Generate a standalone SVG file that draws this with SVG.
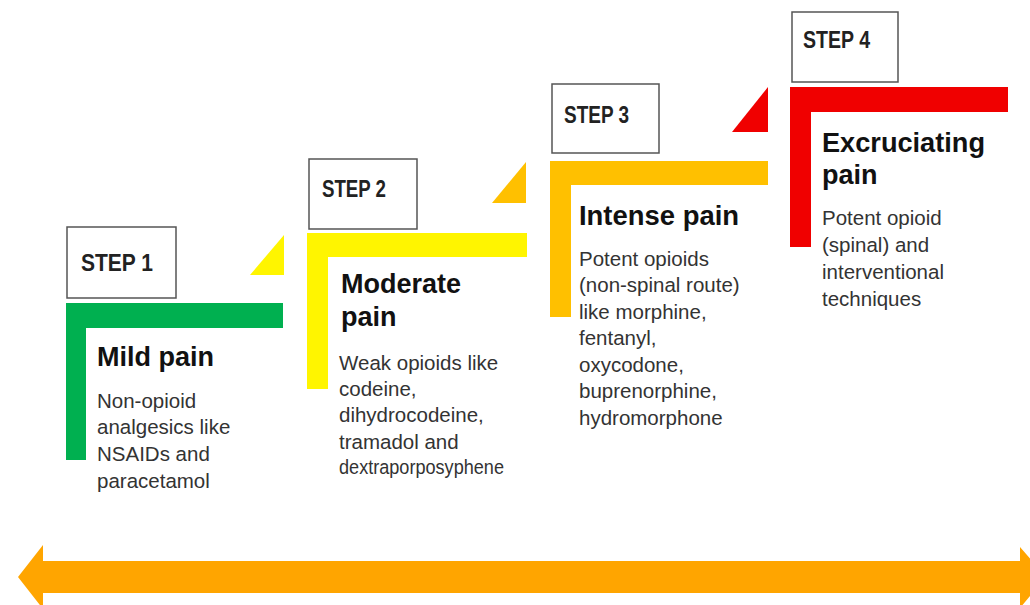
<svg xmlns="http://www.w3.org/2000/svg" width="1030" height="605" viewBox="0 0 1030 605">
  <style>
    .box { fill: #ffffff; stroke: #555555; stroke-width: 1.5; }
    .step { font-family: "Liberation Sans", Arial, sans-serif; font-weight: bold; font-size: 24px; fill: #222222; }
    .title { font-family: "Liberation Sans", Arial, sans-serif; font-weight: bold; font-size: 27px; fill: #111111; }
    .body { font-family: "Liberation Sans", Arial, sans-serif; font-size: 20.5px; fill: #333333; }
    .green { fill: #00B050; }
    .yellow { fill: #FFF500; }
    .amber { fill: #FFC000; }
    .red { fill: #F00000; }
  </style>
  <rect width="1030" height="605" fill="#ffffff"/>

  <!-- Step 1: mild pain -->
  <g id="step1">
    <rect class="box" x="67" y="227" width="109" height="71"/>
    <text class="step" x="81" y="271" textLength="72" lengthAdjust="spacingAndGlyphs">STEP 1</text>
    <path class="green" d="M66,303 H283 V328 H86 V460 H66 Z"/>
    <text class="title" x="97" y="366" font-size="28">Mild pain</text>
    <text class="body" x="97" y="408">Non-opioid</text>
    <text class="body" x="97" y="434">analgesics like</text>
    <text class="body" x="97" y="461">NSAIDs and</text>
    <text class="body" x="97" y="488">paracetamol</text>
  </g>
  <polygon id="tri1" class="yellow" points="250,275 284,235 284,275"/>

  <!-- Step 2: moderate pain -->
  <g id="step2">
    <rect class="box" x="309" y="159" width="108" height="70"/>
    <text class="step" x="322" y="197" textLength="64" lengthAdjust="spacingAndGlyphs">STEP 2</text>
    <path class="yellow" d="M307,233 H527 V257 H328 V389 H307 Z"/>
    <text class="title" x="341" y="293">Moderate</text>
    <text class="title" x="341" y="326">pain</text>
    <text class="body" x="339" y="370">Weak opioids like</text>
    <text class="body" x="339" y="396">codeine,</text>
    <text class="body" x="339" y="422">dihydrocodeine,</text>
    <text class="body" x="339" y="449">tramadol and</text>
    <text class="body" x="339" y="474" textLength="165" lengthAdjust="spacingAndGlyphs">dextraporposyphene</text>
  </g>
  <polygon id="tri2" class="amber" points="492,203 526,162 526,203"/>

  <!-- Step 3: intense pain -->
  <g id="step3">
    <rect class="box" x="552" y="84" width="107" height="69"/>
    <text class="step" x="564" y="123" textLength="65" lengthAdjust="spacingAndGlyphs">STEP 3</text>
    <path class="amber" d="M550,161 H768 V185 H571 V317 H550 Z"/>
    <text class="title" x="579" y="225" font-size="30" textLength="160" lengthAdjust="spacingAndGlyphs">Intense pain</text>
    <text class="body" x="579" y="266">Potent opioids</text>
    <text class="body" x="579" y="292">(non-spinal route)</text>
    <text class="body" x="579" y="319">like morphine,</text>
    <text class="body" x="579" y="345">fentanyl,</text>
    <text class="body" x="579" y="372">oxycodone,</text>
    <text class="body" x="579" y="398">buprenorphine,</text>
    <text class="body" x="579" y="425">hydromorphone</text>
  </g>
  <polygon id="tri3" class="red" points="732,132 768,87 768,132"/>

  <!-- Step 4: excruciating pain -->
  <g id="step4">
    <rect class="box" x="792" y="12" width="106" height="70"/>
    <text class="step" x="803" y="48" textLength="67" lengthAdjust="spacingAndGlyphs">STEP 4</text>
    <path class="red" d="M790,87 H1008 V112 H811 V247 H790 Z"/>
    <text class="title" x="822" y="152" font-size="30" textLength="163" lengthAdjust="spacingAndGlyphs">Excruciating</text>
    <text class="title" x="822" y="184" font-size="30">pain</text>
    <text class="body" x="822" y="225">Potent opioid</text>
    <text class="body" x="822" y="252">(spinal) and</text>
    <text class="body" x="822" y="279">interventional</text>
    <text class="body" x="822" y="306">techniques</text>
  </g>

  <!-- Connectors: double-headed scale arrow -->
  <g id="connectors">
    <path fill="#FFA500" d="M18,577 L43,545 V561 H1020 V547 L1046,577 L1020,608 V593 H43 V609 Z"/>
  </g>
</svg>
